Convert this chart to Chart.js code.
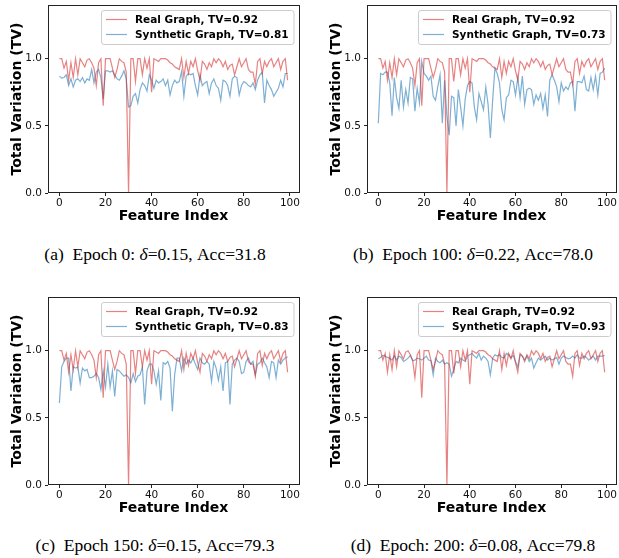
<!DOCTYPE html>
<html><head><meta charset="utf-8">
<script src="https://cdn.jsdelivr.net/npm/chart.js@4.4.1/dist/chart.umd.min.js"></script>
<style>
html,body{margin:0;padding:0;background:#fff;}
body{width:619px;height:558px;position:relative;overflow:hidden;}
.wrap{position:absolute;}
.cap{position:absolute;font-family:"Liberation Serif","Times New Roman",serif;font-size:17.5px;color:#000;white-space:pre;transform:translate(-50%,-50%);}
</style></head><body>
<div class="wrap" style="left:0;top:0"><canvas id="c0" width="310" height="230"></canvas></div>
<div class="wrap" style="left:319px;top:0"><canvas id="c1" width="300" height="230"></canvas></div>
<div class="wrap" style="left:0;top:292px"><canvas id="c2" width="310" height="230"></canvas></div>
<div class="wrap" style="left:319px;top:292px"><canvas id="c3" width="300" height="230"></canvas></div>
<div class="cap" id="cap0" style="left:155px;top:253.5px"></div>
<div class="cap" id="cap1" style="left:473px;top:253.5px"></div>
<div class="cap" id="cap2" style="left:155px;top:545px"></div>
<div class="cap" id="cap3" style="left:473px;top:545px"></div>
<script>
// ---------- data ----------
const featureIndex = Array.from({length: 100}, (_, i) => i);
const xTicks = [0, 20, 40, 60, 80, 100];
const yTicks = [0.0, 0.5, 1.0];

const realTV = [1.00,1.00,0.93,0.98,0.84,0.97,0.86,1.00,0.88,1.00,
 0.97,0.94,0.99,1.00,0.97,0.93,0.80,0.97,1.00,0.65,
 1.00,1.00,1.00,0.93,0.86,0.92,1.00,0.98,0.97,0.90,
 0.00,1.00,1.00,0.83,1.00,1.00,0.88,1.00,0.93,1.00,
 0.75,1.00,0.99,0.98,1.00,1.00,1.00,0.99,0.97,0.96,
 0.94,0.93,0.92,1.00,0.86,0.98,0.89,0.98,0.94,1.00,
 0.91,0.84,0.98,0.96,0.92,0.97,0.94,1.00,0.97,1.00,
 0.98,0.94,0.98,0.92,0.95,0.96,0.88,0.94,1.00,0.94,
 0.97,1.00,0.92,0.90,0.90,0.81,0.98,1.00,0.89,0.98,
 0.94,0.98,1.00,0.94,0.97,1.00,0.92,0.98,1.00,0.84];

const synthEpoch0 = [0.87,0.855,0.86,0.88,0.80,0.85,0.79,0.84,0.85,0.83,
 0.86,0.82,0.85,0.84,0.92,0.82,0.90,0.92,0.86,0.70,
 0.91,0.91,0.90,0.91,0.88,0.85,0.84,0.87,0.91,0.85,
 0.64,0.65,0.72,0.74,0.67,0.77,0.82,0.80,0.76,0.88,
 0.84,0.78,0.84,0.82,0.83,0.85,0.80,0.84,0.73,0.80,
 0.84,0.82,0.83,0.905,0.72,0.87,0.89,0.88,0.89,0.80,
 0.73,0.88,0.80,0.82,0.83,0.74,0.82,0.85,0.80,0.78,
 0.69,0.84,0.83,0.80,0.72,0.85,0.87,0.86,0.73,0.80,
 0.83,0.82,0.80,0.79,0.82,0.77,0.84,0.88,0.90,0.67,
 0.84,0.80,0.77,0.72,0.75,0.78,0.84,0.79,0.89,0.89];

const synthEpoch100 = [0.52,0.89,0.88,0.90,0.90,0.82,0.575,0.86,0.71,0.63,
 0.84,0.64,0.77,0.67,0.86,0.85,0.61,0.78,0.67,0.98,
 0.89,0.87,0.84,0.87,0.72,0.69,0.79,0.88,0.52,0.84,
 0.57,0.43,0.72,0.71,0.50,0.77,0.64,0.50,0.70,0.80,
 0.83,0.82,0.64,0.545,0.74,0.68,0.62,0.79,0.66,0.41,
 0.69,0.93,0.89,0.82,0.62,0.545,0.71,0.73,0.84,0.83,
 0.73,0.86,0.71,0.87,0.66,0.77,0.78,0.77,0.66,0.73,
 0.69,0.74,0.63,0.73,0.57,0.84,0.88,0.84,0.79,0.68,
 0.82,0.76,0.79,0.77,0.82,0.83,0.61,0.83,0.83,0.82,
 0.87,0.77,0.76,0.86,0.77,0.87,0.73,0.89,0.90,0.93];

const synthEpoch150 = [0.61,0.88,0.92,0.945,0.945,0.70,0.88,0.87,0.88,0.76,
 0.87,0.85,0.86,0.80,0.80,0.81,0.83,0.80,0.71,0.85,
 0.73,0.90,0.73,0.85,0.66,0.86,0.85,0.83,0.81,0.82,
 0.80,0.76,0.83,0.77,0.81,0.82,0.88,0.60,0.85,0.90,
 0.90,0.85,0.75,0.85,0.63,0.91,0.90,0.92,0.87,0.55,
 0.82,0.945,0.945,0.85,0.945,0.90,0.93,0.91,0.945,0.90,
 0.86,0.945,0.91,0.90,0.92,0.90,0.77,0.92,0.87,0.78,
 0.88,0.70,0.91,0.92,0.60,0.90,0.93,0.945,0.92,0.83,
 0.84,0.92,0.945,0.90,0.92,0.82,0.90,0.91,0.945,0.91,
 0.88,0.80,0.92,0.91,0.80,0.93,0.90,0.93,0.945,0.955];

const synthEpoch200 = [0.94,0.95,0.965,0.96,0.95,0.945,0.93,0.96,0.93,0.96,
 0.95,0.92,0.93,0.945,0.965,0.925,0.93,0.945,0.94,0.93,
 0.945,0.96,0.93,0.925,0.82,0.945,0.92,0.91,0.93,0.90,
 0.91,0.90,0.81,0.86,0.92,0.91,0.945,0.93,0.92,0.96,
 0.97,0.98,0.96,0.945,0.98,0.93,0.96,0.945,0.92,0.82,
 0.945,0.97,0.96,0.97,0.95,0.945,0.98,0.97,0.945,0.965,
 0.92,0.88,0.97,0.96,0.93,0.96,0.92,0.945,0.87,0.91,
 0.945,0.93,0.945,0.96,0.93,0.945,0.93,0.94,0.95,0.90,
 0.945,0.96,0.95,0.94,0.945,0.96,0.945,0.97,0.945,0.945,
 0.96,0.95,0.93,0.945,0.96,0.93,0.96,0.96,0.96,0.965];

const realLabel = "Real Graph, TV=0.92";
const synthLabels = ["Synthetic Graph, TV=0.81", "Synthetic Graph, TV=0.73",
                     "Synthetic Graph, TV=0.83", "Synthetic Graph, TV=0.93"];
const captionTags = ["(a)", "(b)", "(c)", "(d)"];
const captionEpochs = ["Epoch 0:", "Epoch 100:", "Epoch 150:", "Epoch: 200:"];
const captionDeltas = ["0.15", "0.22", "0.15", "0.08"];
const captionAccs = ["31.8", "78.0", "79.3", "79.8"];
const synthSeries = [synthEpoch0, synthEpoch100, synthEpoch150, synthEpoch200];

// ---------- drawing ----------
const RED = 'rgba(214,39,40,0.58)';
const BLUE = 'rgba(31,119,180,0.58)';
const AXC = '#222222';

const frameLegend = {
  id: 'frameLegend',
  afterDatasetsDraw(chart) {
    const {ctx, chartArea: a} = chart;
    ctx.save();
    // full frame (matplotlib spines)
    ctx.strokeStyle = AXC; ctx.lineWidth = 1;
    ctx.strokeRect(Math.round(a.left) + 0.5, Math.round(a.top) + 0.5,
                   Math.round(a.right) - Math.round(a.left), Math.round(a.bottom) - Math.round(a.top) - 1);
    // legend box
    ctx.font = 'bold 10.5px "DejaVu Sans"';
    const ds = chart.data.datasets;
    const tw = Math.max(...ds.map(d => ctx.measureText(d.label).width));
    const w = 5 + 21 + 8 + tw + 5, h = 34;
    const x = Math.round(a.right - 5 - w), y = Math.round(a.top + 5);
    ctx.beginPath();
    ctx.roundRect(x + 0.5, y + 0.5, w, h, 2.5);
    ctx.fillStyle = 'rgba(255,255,255,0.8)'; ctx.fill();
    ctx.strokeStyle = '#cccccc'; ctx.lineWidth = 1; ctx.stroke();
    ds.forEach((d, i) => {
      const cy = y + 9.5 + i * 15;
      ctx.strokeStyle = d.borderColor; ctx.lineWidth = d.borderWidth;
      ctx.beginPath(); ctx.moveTo(x + 5, cy); ctx.lineTo(x + 26, cy); ctx.stroke();
      ctx.fillStyle = '#000'; ctx.textBaseline = 'middle'; ctx.textAlign = 'left';
      ctx.fillText(d.label, x + 34, cy + 0.5);
    });
    ctx.restore();
  }
};

function makeChart(id, k, rightPad) {
  const toXY = arr => featureIndex.map((i) => ({x: i, y: arr[i]}));
  new Chart(document.getElementById(id), {
    type: 'line',
    data: {
      datasets: [
        {label: realLabel, data: toXY(realTV), borderColor: RED, borderWidth: 1.2,
         pointRadius: 0, tension: 0, fill: false},
        {label: synthLabels[k], data: toXY(synthSeries[k]), borderColor: BLUE, borderWidth: 1.2,
         pointRadius: 0, tension: 0, fill: false}
      ]
    },
    options: {
      responsive: false, animation: false, events: [],
      layout: {padding: {top: 5, right: rightPad, left: 0, bottom: 0}},
      plugins: {legend: {display: false}, tooltip: {enabled: false}},
      scales: {
        x: {
          type: 'linear', min: -4.95, max: 103.95,
          afterBuildTicks: s => { s.ticks = xTicks.map(v => ({value: v})); },
          afterFit: s => { s.height = 37; s.paddingLeft = 0; s.paddingRight = 0; },
          grid: {display: true, drawOnChartArea: false, drawTicks: true, tickLength: 3, color: AXC},
          border: {display: false},
          ticks: {color: '#111', padding: 1, maxRotation: 0, font: {family: 'DejaVu Sans', size: 10.5},
                  callback: v => String(v)},
          title: {display: true, text: 'Feature Index', color: '#000',
                  font: {family: 'DejaVu Sans', size: 14, weight: 'bold'}, padding: {top: 0, bottom: 5}}
        },
        y: {
          type: 'linear', min: 0, max: 1.4,
          afterBuildTicks: s => { s.ticks = yTicks.map(v => ({value: v})); },
          afterFit: s => { s.width = 48; s.paddingTop = 0; s.paddingBottom = 0; },
          grid: {display: true, drawOnChartArea: false, drawTicks: true, tickLength: 3, color: AXC},
          border: {display: false},
          ticks: {color: '#111', padding: 3, font: {family: 'DejaVu Sans', size: 10.5},
                  callback: v => Number(v).toFixed(1)},
          title: {display: true, text: 'Total Variation (TV)', color: '#000',
                  font: {family: 'DejaVu Sans', size: 14, weight: 'bold'}, padding: {top: 9, bottom: 0}}
        }
      }
    },
    plugins: [frameLegend]
  });
}

makeChart('c0', 0, 11);
makeChart('c1', 1, 3);
makeChart('c2', 2, 11);
makeChart('c3', 3, 3);

captionTags.forEach((t, k) => {
  const el = document.getElementById('cap' + k);
  el.innerHTML = t + '  ' + captionEpochs[k] + ' <i>δ</i>=' + captionDeltas[k] + ', Acc=' + captionAccs[k];
});
</script>
</body></html>
